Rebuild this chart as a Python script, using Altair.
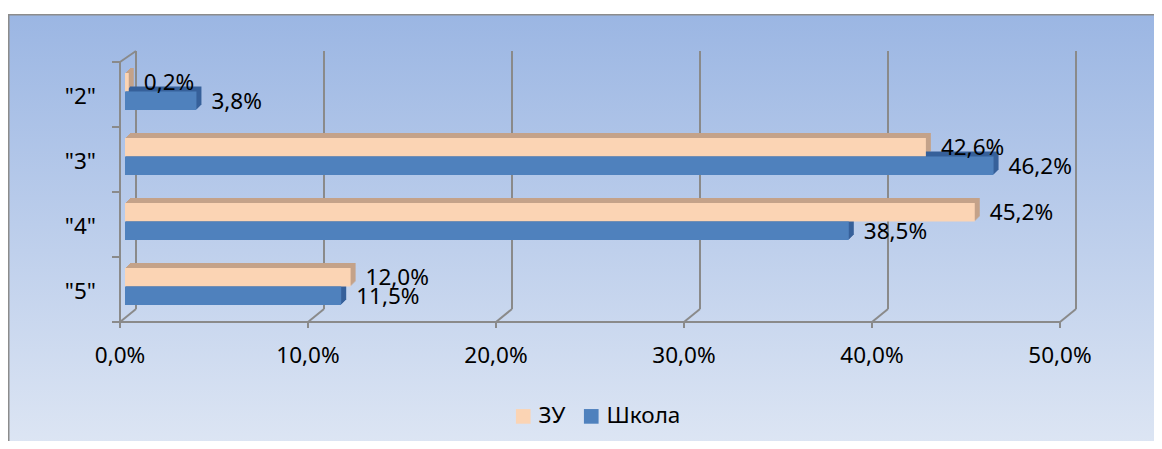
import altair as alt
import pandas as pd

categories = ['"2"', '"3"', '"4"', '"5"']
series = ["ЗУ", "Школа"]
zu_values = [0.2, 42.6, 45.2, 12.0]
school_values = [3.8, 46.2, 38.5, 11.5]
tick_values = [0, 10, 20, 30, 40, 50]
tick_labels = ["0,0%", "10,0%", "20,0%", "30,0%", "40,0%", "50,0%"]

front_colors = ["#FBD4B4", "#4F81BD"]
depth_colors = ["#C4A289", "#36609A"]
FONT = "Noto Sans"
FS = 22.5


def fmt(v):
    return f"{v:.1f}%".replace(".", ",")


rows = []
for c, z, s in zip(categories, zu_values, school_values):
    rows.append({"cat": c, "series": series[0], "value": z, "label": fmt(z)})
    rows.append({"cat": c, "series": series[1], "value": s, "label": fmt(s)})
df = pd.DataFrame(rows)
ticks_df = pd.DataFrame({"v": tick_values, "label": tick_labels})
cat_df = pd.DataFrame({"cat": categories})
zero_df = pd.DataFrame({"v": [0], "v2": [50]})

W, H = 1146, 433
xs = alt.Scale(domain=[0, 50], range=[117, 1057])
ys = alt.Scale(domain=categories, range=[51, 311], paddingInner=0, paddingOuter=0)
X = lambda f="value": alt.X(f"{f}:Q", scale=xs, axis=None)
Y = alt.Y("cat:N", scale=ys, axis=None)

GRID = "#8A8A8A"
FRONT = -5
BACK = 11
Y_BACK_TOP, Y_BACK_BOT, Y_FRONT_TOP, Y_FRONT_BOT = 43, 301, 54, 314

bg = alt.Chart(zero_df).mark_rect(
    color=alt.LinearGradient(
        gradient="linear",
        stops=[alt.GradientStop(color="#9BB6E3", offset=0),
               alt.GradientStop(color="#DFE7F4", offset=1)],
        x1=0, x2=0, y1=0, y2=1),
).encode(x=alt.value(0), x2=alt.value(W), y=alt.value(6), y2=alt.value(H + 20))

frame_left = alt.Chart(zero_df).mark_rule(color="#8C8C8C", strokeWidth=1.5).encode(
    x=alt.value(0.75), y=alt.value(6), y2=alt.value(H))
frame_top = alt.Chart(zero_df).mark_rule(color="#8C8C8C", strokeWidth=1.5).encode(
    x=alt.value(0), x2=alt.value(W), y=alt.value(6.75))

grid = alt.Chart(ticks_df).mark_rule(color=GRID, strokeWidth=2, xOffset=BACK).encode(
    x=X("v"), y=alt.value(Y_BACK_TOP), y2=alt.value(Y_BACK_BOT))

floor_diag = alt.Chart(ticks_df).mark_rule(
    color=GRID, strokeWidth=2, xOffset=FRONT, x2Offset=BACK).encode(
    x=X("v"), x2="v:Q", y=alt.value(Y_FRONT_BOT), y2=alt.value(Y_BACK_BOT))

top_diag = alt.Chart(zero_df).mark_rule(
    color=GRID, strokeWidth=2, xOffset=FRONT, x2Offset=BACK).encode(
    x=X("v"), x2="v:Q", y=alt.value(Y_FRONT_TOP), y2=alt.value(Y_BACK_TOP))

left_axis = alt.Chart(zero_df).mark_rule(color=GRID, strokeWidth=2, xOffset=FRONT).encode(
    x=X("v"), y=alt.value(Y_FRONT_TOP), y2=alt.value(Y_FRONT_BOT + 1))

bottom_axis = alt.Chart(zero_df).mark_rule(
    color=GRID, strokeWidth=2, xOffset=FRONT - 1, x2Offset=FRONT + 1).encode(
    x=X("v"), x2="v2:Q", y=alt.value(Y_FRONT_BOT), y2=alt.value(Y_FRONT_BOT))

bottom_ticks = alt.Chart(ticks_df).mark_rule(color=GRID, strokeWidth=2, xOffset=FRONT).encode(
    x=X("v"), y=alt.value(Y_FRONT_BOT), y2=alt.value(Y_FRONT_BOT + 6))

left_ticks = alt.Chart(cat_df).mark_rule(
    color=GRID, strokeWidth=2, xOffset=FRONT - 8, x2Offset=FRONT, yOffset=-29.5).encode(
    x=alt.X("z:Q", scale=xs, axis=None), x2="z:Q", y=Y).transform_calculate(z="0")

left_tick_last = alt.Chart(cat_df).transform_filter(
    alt.datum.cat == categories[-1]).transform_calculate(z="0").mark_rule(
    color=GRID, strokeWidth=2, xOffset=FRONT - 8, x2Offset=FRONT, yOffset=35.5).encode(
    x=alt.X("z:Q", scale=xs, axis=None), x2="z:Q", y=Y)

BAR_H = 18.5
layers = [bg, frame_left, frame_top, grid, floor_diag, top_diag, left_axis,
          bottom_axis, bottom_ticks, left_ticks, left_tick_last]

offsets = [-BAR_H / 2, BAR_H / 2]
for i, s in enumerate(series):
    for k in range(1, 6):
        layers.append(
            alt.Chart(df).transform_filter(alt.datum.series == s).mark_bar(
                height=BAR_H, color=depth_colors[i], xOffset=k, x2Offset=k,
                yOffset=offsets[i] - k).encode(x=X(), x2=alt.datum(0), y=Y)
        )

for i, s in enumerate(series):
    layers.append(
        alt.Chart(df).transform_filter(alt.datum.series == s).mark_bar(
            height=BAR_H, yOffset=offsets[i], opacity=1).encode(
            x=X(), x2=alt.datum(0), y=Y,
            color=alt.Color("series:N", scale=alt.Scale(domain=series, range=front_colors),
                            legend=alt.Legend(
                                orient="none", legendX=504, legendY=397,
                                direction="horizontal", title=None,
                                symbolType="square", symbolSize=215,
                                symbolStrokeWidth=0, symbolOpacity=1,
                                labelFontSize=FS, labelFont=FONT, labelColor="black",
                                labelOffset=4, columnPadding=14)))
    )

for i, s in enumerate(series):
    layers.append(
        alt.Chart(df).transform_filter(alt.datum.series == s).mark_text(
            align="left", baseline="middle", dx=15, dy=offsets[i] + 1,
            fontSize=FS, font=FONT, color="black").encode(
            x=X(), y=Y, text="label:N")
    )

tick_text = alt.Chart(ticks_df).mark_text(
    align="center", baseline="middle", fontSize=FS, font=FONT, color="black",
    xOffset=FRONT).encode(x=X("v"), y=alt.value(348), text="label:N")

cat_text = alt.Chart(cat_df).mark_text(
    align="right", baseline="middle", fontSize=FS, font=FONT, color="black",
    dy=5.5).encode(x=alt.value(88), y=Y, text="cat:N")

layers += [tick_text, cat_text]

chart = alt.layer(*layers).properties(
    width=W, height=H, autosize=alt.AutoSizeParams(type="none"), padding=0,
    background="white",
).configure_view(stroke=None)

chart.save("out.html", embed_options={"renderer": "svg", "actions": False})
